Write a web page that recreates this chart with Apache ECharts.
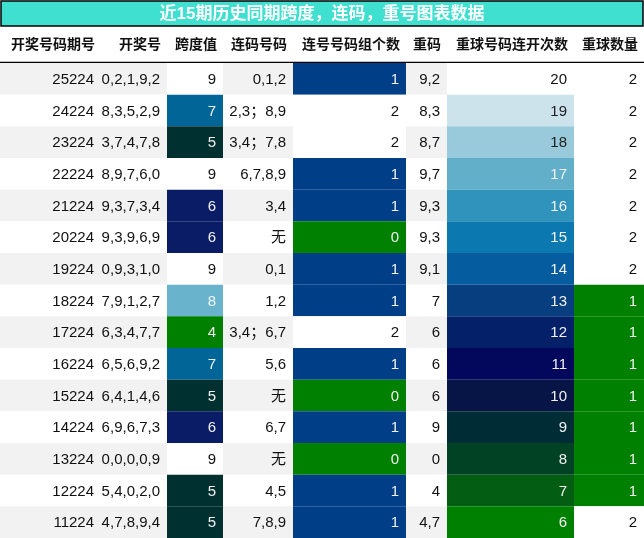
<!DOCTYPE html>
<html><head><meta charset="utf-8">
<script src="https://cdn.jsdelivr.net/npm/echarts@6/dist/echarts.min.js"></script>
<style>html,body{margin:0;padding:0;background:#fff}#c{width:644px;height:538px}</style>
</head><body><div id="c"></div>
<script>
// ---------------- Data ----------------
let title_text = "近15期历史同期跨度，连码，重号图表数据";
let headers = ["开奖号码期号", "开奖号", "跨度值", "连码号码", "连号号码组个数", "重码", "重球号码连开次数", "重球数量"];
let periods = ["25224","24224","23224","22224","21224","20224","19224","18224","17224","16224","15224","14224","13224","12224","11224"];
let draws = ["0,2,1,9,2","8,3,5,2,9","3,7,4,7,8","8,9,7,6,0","9,3,7,3,4","9,3,9,6,9","0,9,3,1,0","7,9,1,2,7","6,3,4,7,7","6,5,6,9,2","6,4,1,4,6","6,9,6,7,3","0,0,0,0,9","5,4,0,2,0","4,7,8,9,4"];
let spans = [9,7,5,9,6,6,9,8,4,7,5,6,9,5,5];
let consec = ["0,1,2","2,3；8,9","3,4；7,8","6,7,8,9","3,4","无","0,1","1,2","3,4；6,7","5,6","无","6,7","无","4,5","7,8,9"];
let consec_groups = [1,2,2,1,1,0,1,1,2,1,0,1,0,1,1];
let repeats = ["9,2","8,3","8,7","9,7","9,3","9,3","9,1","7","6","6","6","9","0","4","4,7"];
let repeat_runs = [20,19,18,17,16,15,14,13,12,11,10,9,8,7,6];
let repeat_counts = [2,2,2,2,2,2,2,1,1,1,1,1,1,1,2];

// ---------------- Layout / colours ----------------
let col_edges = [0, 101, 167, 223, 293, 406, 447, 574, 644];
let span_colors = {9: null, 8: "#69b3cd", 7: "#016597", 6: "#0b1c66", 5: "#00302f", 4: "#008000"};
let group_colors = {0: "#008000", 1: "#003f87", 2: null};
let run_colors = {20: null, 19: "#cce3ec", 18: "#99cadb", 17: "#62afc9", 16: "#2f93bb", 15: "#0b79af",
    14: "#055da0", 13: "#063e80", 12: "#032068", 11: "#03085c", 10: "#061446", 9: "#002c36",
    8: "#024224", 7: "#035e14", 6: "#008000"};
let count_colors = {1: "#008000", 2: null};
let light_text = {"#69b3cd": "#eef6f8", "#cce3ec": "#222", "#99cadb": "#222"};

let columns = [periods, draws, spans, consec, consec_groups, repeats, repeat_runs, repeat_counts];
let cells = [];
for (let r = 0; r < periods.length; r++) {
    for (let c = 0; c < columns.length; c++) {
        cells.push([c, r, String(columns[c][r])]);
    }
}
function cell_fill(c, r) {
    let base = r % 2 === 0 ? "#f2f2f2" : "#ffffff";
    let map = null, v = null;
    if (c === 2) { map = span_colors; v = spans[r]; }
    if (c === 4) { map = group_colors; v = consec_groups[r]; }
    if (c === 6) { map = run_colors; v = repeat_runs[r]; }
    if (c === 7) { map = count_colors; v = repeat_counts[r]; }
    if (map) return map[v] || "#ffffff";
    return base;
}
let font = '"Liberation Sans", "Noto Sans CJK SC", sans-serif';

let chart = echarts.init(document.getElementById("c"));
let option = {
    backgroundColor: "#fff",
    animation: false,
    grid: {left: 0, right: 0, top: 63, bottom: 0},
    xAxis: {type: "value", min: 0, max: 644, show: false},
    yAxis: {type: "category", data: periods, inverse: true, show: false},
    graphic: [
        {type: "rect", shape: {x: 1, y: 1, width: 642, height: 25}, style: {fill: "#40e0d0", stroke: "#000", lineWidth: 1.5}},
        {type: "text", x: 322, y: 14, style: {text: title_text, fill: "#fff", font: "bold 17px " + font, align: "center", verticalAlign: "middle"}},
        {type: "line", shape: {x1: 0, y1: 62.5, x2: 644, y2: 62.5}, style: {stroke: "#000", lineWidth: 1.5}}
    ].concat(headers.map(function (h, i) {
        return {type: "text", x: col_edges[i + 1] - 6, y: 45,
            style: {text: h, fill: "#111", font: "bold 14px " + font, align: "right", verticalAlign: "middle"}};
    })),
    series: [{
        type: "custom",
        data: cells,
        renderItem: function (params, api) {
            let c = api.value(0), r = api.value(1);
            let p0 = api.coord([col_edges[c], r]);
            let p1 = api.coord([col_edges[c + 1], r]);
            let h = api.size([0, 1])[1];
            let fill = cell_fill(c, r);
            let dark = !(fill === "#ffffff" || fill === "#f2f2f2");
            let txtColor = dark ? (light_text[fill] || "#f0f0f0") : "#111";
            return {type: "group", children: [
                {type: "rect", shape: {x: p0[0], y: p0[1] - h / 2, width: p1[0] - p0[0], height: h}, style: {fill: fill}},
                {type: "text", x: p1[0] - 7, y: p0[1] + 1,
                    style: {text: cells[params.dataIndex][2], fill: txtColor, font: "15px " + font, align: "right", verticalAlign: "middle"}}
            ]};
        }
    }]
};
chart.setOption(option);
</script></body></html>
